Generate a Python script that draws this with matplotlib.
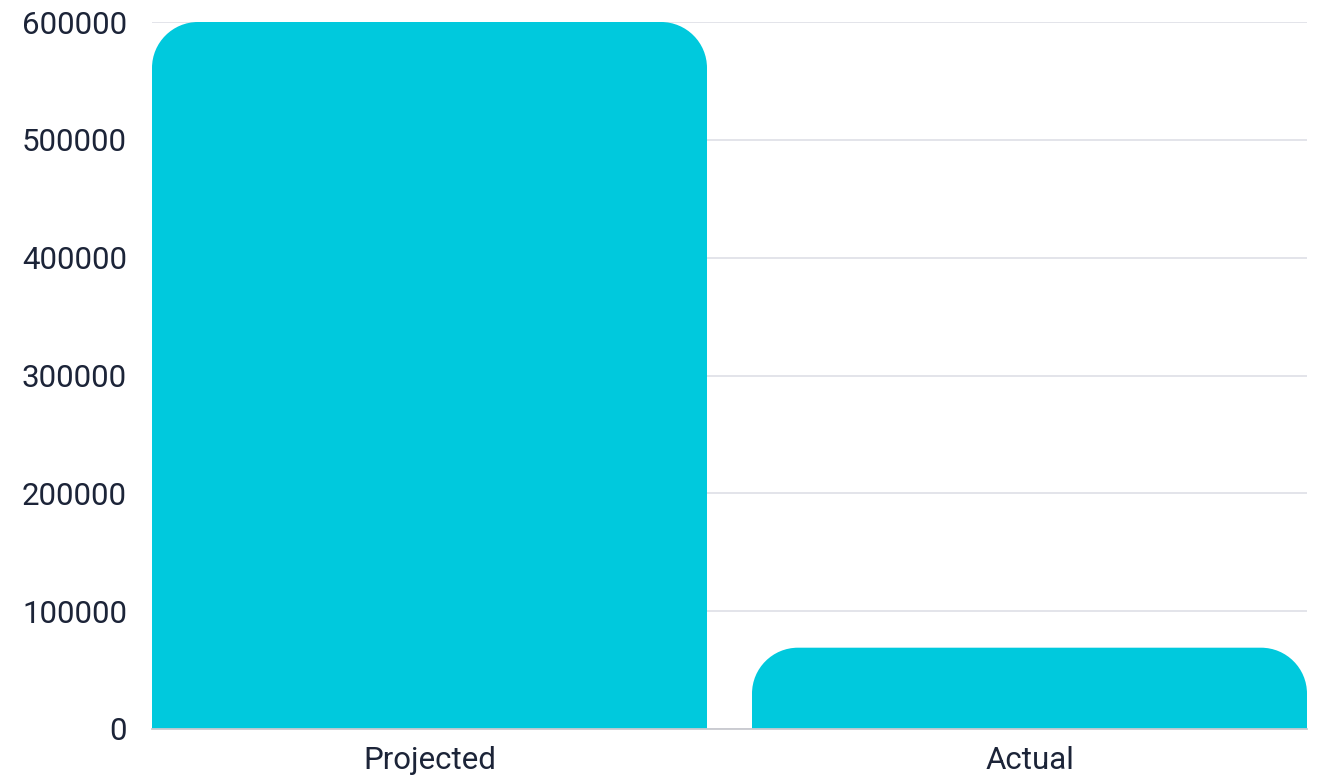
import numpy as np
import matplotlib
matplotlib.use('Agg')
import matplotlib.pyplot as plt
from matplotlib.path import Path
from matplotlib.patches import PathPatch

plt.rcParams['font.family'] = ['Roboto', 'DejaVu Sans']

categories = ["Projected", "Actual"]
values = [600000, 69000]
yticks = [0, 100000, 200000, 300000, 400000, 500000, 600000]

bar_color = "#00c9dd"
text_color = "#1c2438"
grid_color = "#e1e2e8"

W, H = 1319, 779
fig = plt.figure(figsize=(W / 100, H / 100), dpi=100)
ax = fig.add_axes([152 / W, (H - 729) / H, (1307 - 152) / W, (729 - 22) / H])

x = np.arange(len(categories))
bar_w = 0.925
ax.set_xlim(-0.4625, 1.4625)
ax.set_ylim(0, 600000)

# radius in pixels -> data units
r_px = 46
ax_w_px = 1307 - 152
ax_h_px = 729 - 22
rx = r_px * (1.925 / ax_w_px)
ry = r_px * (600000 / ax_h_px)
k = 0.5523


def rounded_top(x0, x1, h):
    ryy = min(ry, h)
    verts = [
        (x0, 0), (x0, h - ryy),
        (x0, h - ryy + k * ryy), (x0 + rx - k * rx, h), (x0 + rx, h),
        (x1 - rx, h),
        (x1 - rx + k * rx, h), (x1, h - ryy + k * ryy), (x1, h - ryy),
        (x1, 0), (x0, 0),
    ]
    codes = [Path.MOVETO, Path.LINETO,
             Path.CURVE4, Path.CURVE4, Path.CURVE4,
             Path.LINETO,
             Path.CURVE4, Path.CURVE4, Path.CURVE4,
             Path.LINETO, Path.CLOSEPOLY]
    return Path(verts, codes)


for xi, v in zip(x, values):
    p = PathPatch(rounded_top(xi - bar_w / 2, xi + bar_w / 2, v),
                  facecolor=bar_color, edgecolor='none', zorder=3)
    ax.add_patch(p)

ax.set_yticks(yticks)
ax.set_yticklabels([str(t) for t in yticks])
ax.set_xticks(x)
ax.set_xticklabels(categories)
ax.grid(axis='y', color=grid_color, linewidth=1.3, zorder=0)
ax.tick_params(axis='both', length=0, labelsize=22.5, labelcolor=text_color)
ax.tick_params(axis='y', pad=18)
ax.tick_params(axis='x', pad=12)
for s in ['top', 'right', 'left']:
    ax.spines[s].set_visible(False)
ax.spines['bottom'].set_color('#c8c9cf')
ax.spines['bottom'].set_linewidth(1.3)
ax.spines['bottom'].set_zorder(4)

fig.savefig("out.png", dpi=100)
